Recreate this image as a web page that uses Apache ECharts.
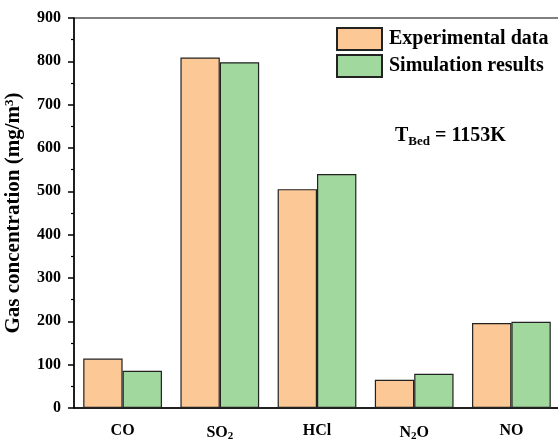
<!DOCTYPE html>
<html><head><meta charset="utf-8">
<script src="https://cdn.jsdelivr.net/npm/echarts@6/dist/echarts.min.js"></script>
<style>html,body{margin:0;padding:0;background:#fff}#c{width:558px;height:439px}</style>
</head><body><div id="c"></div>
<script>
const categories = ['CO', 'SO{s|2}', 'HCl', 'N{s|2}O', 'NO'];
const seriesNames = ['Experimental data', 'Simulation results'];
const experimental = [114, 809, 505, 65, 196];
const simulation = [86, 798, 540, 79, 199];
const yTicks = { min: 0, max: 900, interval: 100 };

const FONT = '"Liberation Serif", "Times New Roman", serif';
const chart = echarts.init(document.getElementById('c'));
const labelRich = { s: { fontSize: 11, fontWeight: 'bold', fontFamily: FONT, verticalAlign: 'bottom', padding: [8, 0, 0, 0] } };
chart.setOption({
  animation: false,
  grid: { left: 74, right: -2, top: 18, bottom: 31, show: true, borderColor: '#000', borderWidth: 1,
    containLabel: false, outerBoundsMode: 'none' },
  legend: {
    left: 336, top: 27, orient: 'vertical', itemWidth: 45, itemHeight: 22, itemGap: 3, padding: 0,
    icon: 'rect',
    data: seriesNames,
    textStyle: { fontFamily: FONT, fontWeight: 'bold', fontSize: 20, color: '#000', padding: [0, 0, 0, 2] }
  },
  xAxis: [{
    type: 'category', data: categories,
    axisLine: { lineStyle: { color: '#000', width: 1.5 } },
    axisTick: { alignWithLabel: true, length: 7, lineStyle: { color: '#000', width: 1.5 } },
    axisLabel: { margin: 15, fontFamily: FONT, fontWeight: 'bold', fontSize: 16, color: '#000', rich: labelRich }
  }, {
    type: 'category', data: categories, position: 'bottom',
    axisLine: { show: false },
    axisTick: { length: 4, lineStyle: { color: '#000', width: 1.5 } },
    axisLabel: { show: false }
  }],
  yAxis: {
    type: 'value', min: yTicks.min, max: yTicks.max, interval: yTicks.interval,
    name: 'Gas concentration (mg/m{sup|3})', nameLocation: 'middle', nameGap: 49,
    nameTextStyle: { fontFamily: FONT, fontWeight: 'bold', fontSize: 21, color: '#000',
      rich: { sup: { fontSize: 13, fontWeight: 'bold', fontFamily: FONT, verticalAlign: 'top', padding: [0, 0, 9, 0] } } },
    axisLine: { show: true, lineStyle: { color: '#000', width: 1.5 } },
    axisTick: { show: true, length: 6, lineStyle: { color: '#000', width: 1.5 } },
    minorTick: { show: true, splitNumber: 2, length: 3, lineStyle: { color: '#000', width: 1.2 } },
    splitLine: { show: false },
    axisLabel: { margin: 13, fontFamily: FONT, fontWeight: 'bold', fontSize: 16, color: '#000' }
  },
  series: [{
    name: seriesNames[0], type: 'bar', data: experimental, barGap: '0%', barCategoryGap: '19%',
    itemStyle: { color: '#FCC896', borderColor: '#222', borderWidth: 1.2 }
  }, {
    name: seriesNames[1], type: 'bar', data: simulation,
    itemStyle: { color: '#A0D89E', borderColor: '#222', borderWidth: 1.2 }
  }],
  graphic: [{
    type: 'text', left: 395, top: 126,
    style: {
      text: 'T{sub|Bed} = 1153K',
      font: 'bold 20px ' + FONT, fill: '#000',
      rich: { sub: { fontSize: 13, fontWeight: 'bold', fontFamily: FONT, verticalAlign: 'bottom', padding: [11, 0, 0, 0] } }
    }
  }]
});
</script></body></html>
